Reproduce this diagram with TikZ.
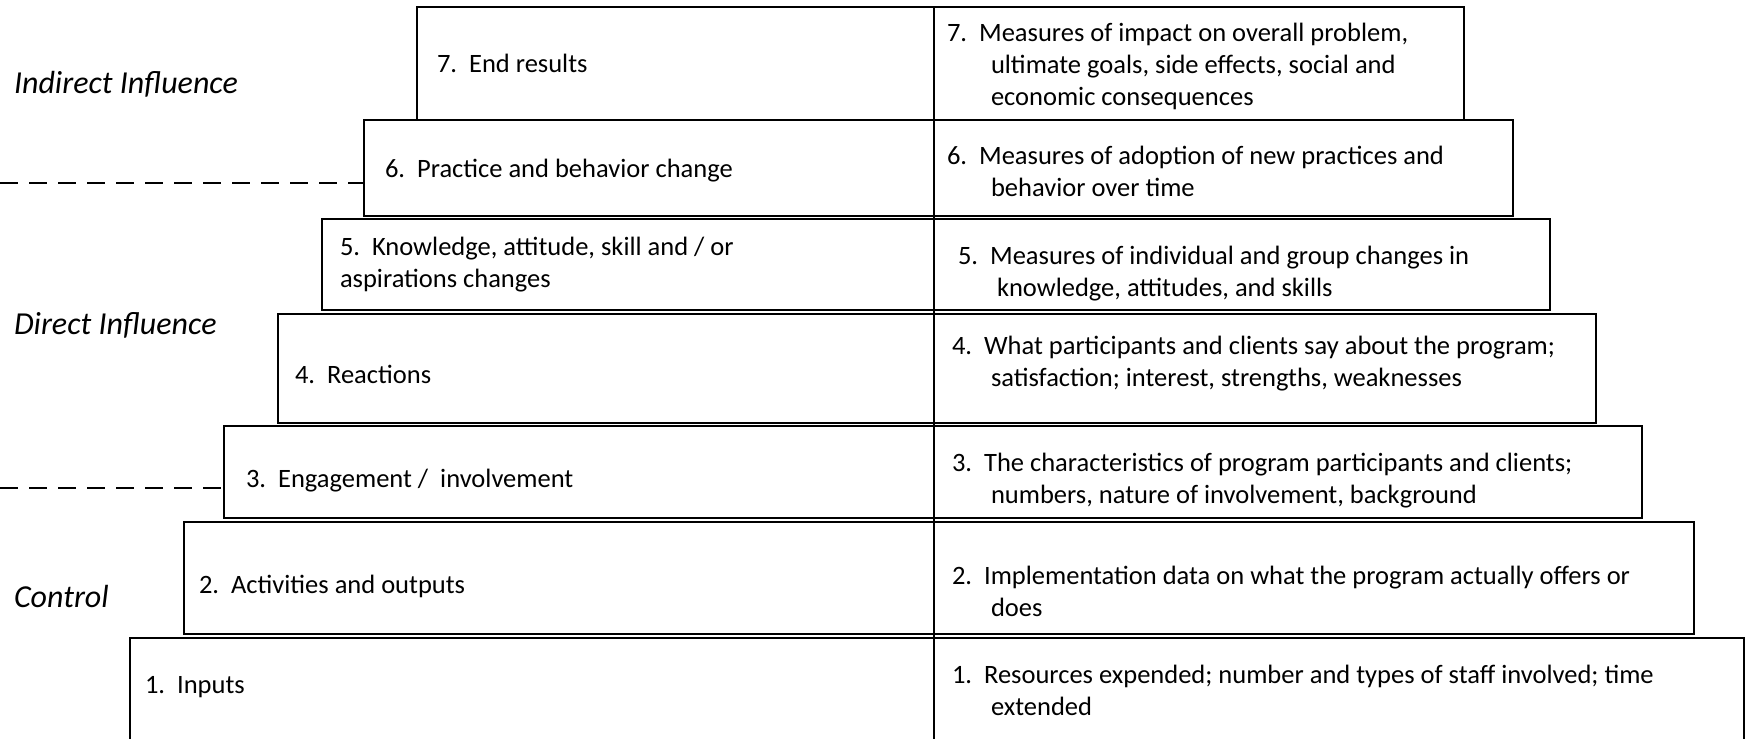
\documentclass[tikz,border=0pt]{standalone}
\usepackage{fontspec}
\setmainfont{Carlito}
\begin{document}
\begin{tikzpicture}[x=1pt,y=-1pt,
  pbox/.style={draw=black, fill=white, line width=2.9pt, inner sep=0pt, outer sep=0pt, anchor=north west},
  txt/.style={anchor=base west, inner sep=0pt, outer sep=0pt, align=left, font=\fontsize{26.5}{32}\selectfont},
  lbl/.style={anchor=base west, inner sep=0pt, outer sep=0pt, font=\fontsize{32}{38}\selectfont\itshape},
  divline/.style={draw=black, line width=2.9pt},
  dashline/.style={draw=black, line width=2.4pt, dash pattern=on 18pt off 11pt}]
\useasboundingbox (0,0) rectangle (1746,739);
\fill[white] (0,0) rectangle (1746,739);
% boxes, bottom to top
\node[pbox, minimum width=1614pt, minimum height=112pt] (b1) at (130,638) {};
\node[pbox, minimum width=1510pt, minimum height=112pt] (b2) at (184,522) {};
\node[pbox, minimum width=1418pt, minimum height=92pt] (b3) at (224,426) {};
\node[pbox, minimum width=1318pt, minimum height=109pt] (b4) at (278,314) {};
\node[pbox, minimum width=1228pt, minimum height=91pt] (b5) at (322,219) {};
\node[pbox, minimum width=1149pt, minimum height=96pt] (b6) at (364,120) {};
\node[pbox, minimum width=1047pt, minimum height=113pt] (b7) at (417,7) {};
% divider
\coordinate (dtop) at (934,7);
\coordinate (dbot) at (934,739);
\draw[divline] (dtop) -- (dbot);
% dashed lines
\coordinate (d1) at (0,183);
\coordinate (d2) at (0,488);
\draw[dashline] (d1) -- (d1 -| b6.west);
\draw[dashline] (d2) -- (d2 -| b3.west);
% side labels
\node[lbl] (lind) at (14,93) {Indirect Influence};
\node[lbl] (ldir) at (14,334) {Direct Influence};
\node[lbl] (lctl) at (14,607) {Control};
% left texts
\node[txt] (t7) at (437,72) {7.\ \ End results};
\node[txt] (t6) at (385,177) {6.\ \ Practice and behavior change};
\node[txt] (t5) at (340,287) {5.\ \ Knowledge, attitude, skill and / or\\aspirations changes};
\node[txt] (t4) at (295,383) {4.\ \ Reactions};
\node[txt] (t3) at (246,487) {3.\ \ Engagement /\ \ involvement};
\node[txt] (t2) at (199,593) {2.\ \ Activities and outputs};
\node[txt] (t1) at (145,693) {1.\ \ Inputs};
% right texts
\node[txt] (r7) at (947,105) {7.\ \ Measures of impact on overall problem,\\\hspace*{44pt}ultimate goals, side effects, social and\\\hspace*{44pt}economic consequences};
\node[txt] (r6) at (947,196) {6.\ \ Measures of adoption of new practices and\\\hspace*{44pt}behavior over time};
\node[txt] (r5) at (958,296) {5.\ \ Measures of individual and group changes in\\\hspace*{39pt}knowledge, attitudes, and skills};
\node[txt] (r4) at (952,386) {4.\ \ What participants and clients say about the program;\\\hspace*{39pt}satisfaction; interest, strengths, weaknesses};
\node[txt] (r3) at (952,503) {3.\ \ The characteristics of program participants and clients;\\\hspace*{39pt}numbers, nature of involvement, background};
\node[txt] (r2) at (952,616) {2.\ \ Implementation data on what the program actually offers or\\\hspace*{39pt}does};
\node[txt] (r1) at (952,715) {1.\ \ Resources expended; number and types of staff involved; time\\\hspace*{39pt}extended};
\end{tikzpicture}
\end{document}
